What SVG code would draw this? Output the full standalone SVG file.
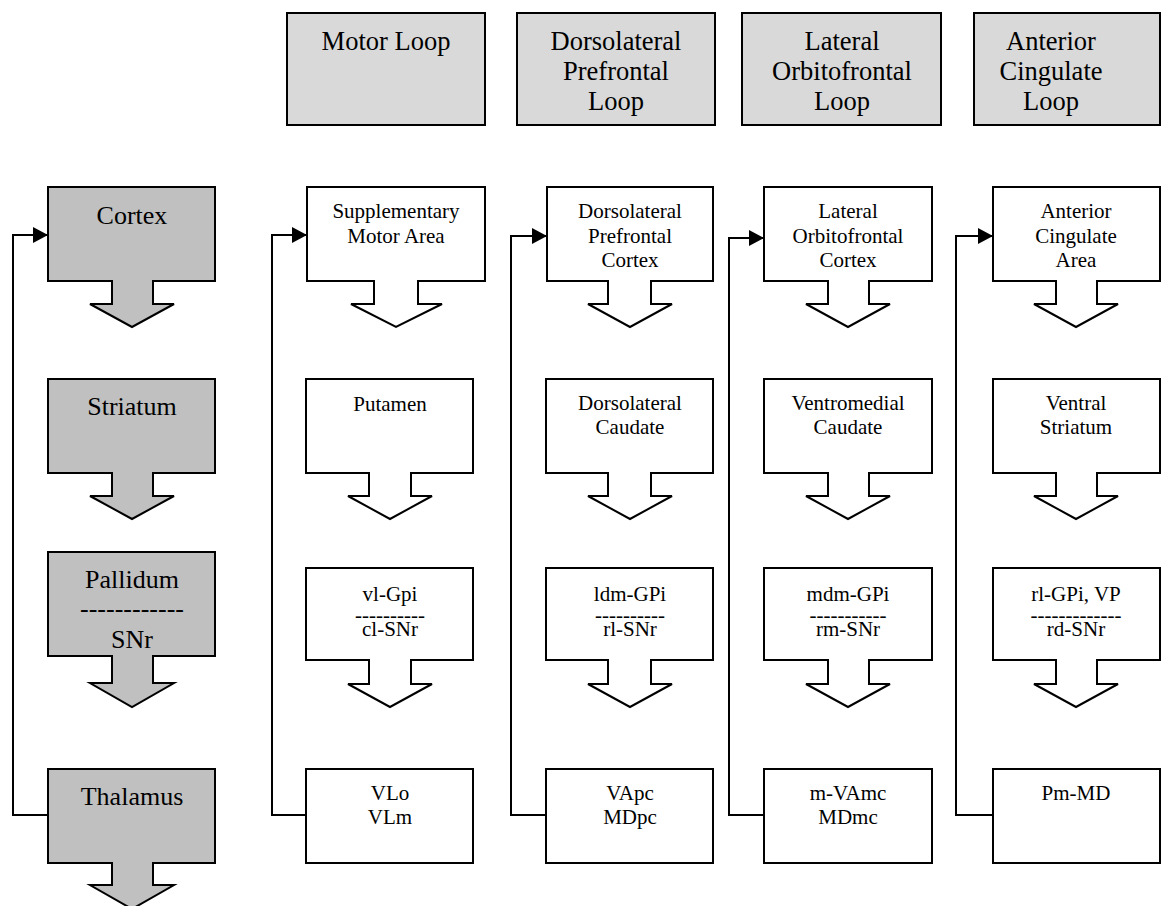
<svg xmlns="http://www.w3.org/2000/svg" width="1162" height="906" viewBox="0 0 1162 906">
<defs>
<style>
.hdr{fill:#d9d9d9;stroke:#000;stroke-width:2}
.lft{fill:#c0c0c0;stroke:#000;stroke-width:2;stroke-linejoin:miter}
.box{fill:#fff;stroke:#000;stroke-width:2;stroke-linejoin:miter}
.conn{fill:none;stroke:#000;stroke-width:2}
text{font-family:"Liberation Serif","Times New Roman",serif;fill:#000;text-anchor:middle}
.th{font-size:26.5px}
.tl{font-size:26px}
.tb{font-size:21px}
</style>
<marker id="ah" markerWidth="15" markerHeight="16" refX="15" refY="8" orient="auto" markerUnits="userSpaceOnUse">
<path d="M0,0 L15,8 L0,16 Z" fill="#000"/>
</marker>
</defs>
<rect width="1162" height="906" fill="#fff"/>

<g id="headers">
<g id="h-motor"><rect class="hdr" x="287" y="13" width="198" height="112"/><text class="th" x="386" y="50">Motor Loop</text></g>
<g id="h-dlpfc"><rect class="hdr" x="517" y="13" width="198" height="112"/><text class="th" x="616" y="50">Dorsolateral</text><text class="th" x="616" y="80">Prefrontal</text><text class="th" x="616" y="110">Loop</text></g>
<g id="h-lofc"><rect class="hdr" x="742" y="13" width="199" height="112"/><text class="th" x="842" y="50">Lateral</text><text class="th" x="842" y="80">Orbitofrontal</text><text class="th" x="842" y="110">Loop</text></g>
<g id="h-acc"><rect class="hdr" x="974" y="13" width="186" height="112"/><text class="th" x="1051" y="50">Anterior</text><text class="th" x="1051" y="80">Cingulate</text><text class="th" x="1051" y="110">Loop</text></g>
</g>

<g id="connectors">
<polyline class="conn" points="48,815 13,815 13,235 48,235" marker-end="url(#ah)"/>
<polyline class="conn" points="306,815 272,815 272,235 307,235" marker-end="url(#ah)"/>
<polyline class="conn" points="546,815 511,815 511,236 547,236" marker-end="url(#ah)"/>
<polyline class="conn" points="764,815 729,815 729,238 764,238" marker-end="url(#ah)"/>
<polyline class="conn" points="993,815 956,815 956,236 993,236" marker-end="url(#ah)"/>
</g>

<g id="left-column">
<g id="cortex"><path class="lft" d="M48,187 H215 V281 H153 V304 H174 L132,327 L90,304 H112 V281 H48 Z"/><text class="tl" x="132" y="224">Cortex</text></g>
<g id="striatum"><path class="lft" d="M48,379 H215 V473 H153 V496 H174 L132,519 L90,496 H112 V473 H48 Z"/><text class="tl" x="132" y="415">Striatum</text></g>
<g id="pallidum"><path class="lft" d="M48,552 H215 V656 H153 V683 H174 L132,707 L90,683 H112 V656 H48 Z"/><text class="tl" x="132" y="588">Pallidum</text><text class="tl" x="132" y="617">------------</text><text class="tl" x="132" y="648">SNr</text></g>
<g id="thalamus"><path class="lft" d="M48,769 H215 V863 H153 V885 H174 L132,909 L90,885 H112 V863 H48 Z"/><text class="tl" x="132" y="805">Thalamus</text></g>
</g>

<g id="col-motor">
<g id="sma"><path class="box" d="M307,187 H485 V281 H418 V304 H442 L396,327 L351,304 H374 V281 H307 Z"/><text class="tb" x="396" y="218">Supplementary</text><text class="tb" x="396" y="243">Motor Area</text></g>
<g id="putamen"><path class="box" d="M306,379 H473 V473 H411 V496 H432 L390,519 L348,496 H369 V473 H306 Z"/><text class="tb" x="390" y="411">Putamen</text></g>
<g id="vlgpi"><path class="box" d="M306,568 H473 V660 H411 V684 H432 L390,707 L348,684 H369 V660 H306 Z"/><text class="tb" x="390" y="601">vl-Gpi</text><text class="tb" x="390" y="622">----------</text><text class="tb" x="390" y="636">cl-SNr</text></g>
<g id="vlo"><rect class="box" x="306" y="769" width="167" height="94"/><text class="tb" x="390" y="800">VLo</text><text class="tb" x="390" y="824">VLm</text></g>
</g>

<g id="col-dlpfc">
<g id="dlpfc"><path class="box" d="M547,187 H713 V281 H651 V304 H672 L630,327 L588,304 H608 V281 H547 Z"/><text class="tb" x="630" y="218">Dorsolateral</text><text class="tb" x="630" y="243">Prefrontal</text><text class="tb" x="630" y="267">Cortex</text></g>
<g id="dlcaud"><path class="box" d="M546,379 H713 V473 H651 V496 H672 L630,519 L588,496 H608 V473 H546 Z"/><text class="tb" x="630" y="410">Dorsolateral</text><text class="tb" x="630" y="434">Caudate</text></g>
<g id="ldmgpi"><path class="box" d="M546,568 H713 V660 H651 V684 H672 L630,707 L588,684 H608 V660 H546 Z"/><text class="tb" x="630" y="601">ldm-GPi</text><text class="tb" x="630" y="622">----------</text><text class="tb" x="630" y="636">rl-SNr</text></g>
<g id="vapc"><rect class="box" x="546" y="769" width="167" height="94"/><text class="tb" x="630" y="800">VApc</text><text class="tb" x="630" y="824">MDpc</text></g>
</g>

<g id="col-lofc">
<g id="lofc"><path class="box" d="M764,187 H932 V281 H869 V304 H890 L848,327 L806,304 H828 V281 H764 Z"/><text class="tb" x="848" y="218">Lateral</text><text class="tb" x="848" y="243">Orbitofrontal</text><text class="tb" x="848" y="267">Cortex</text></g>
<g id="vmcaud"><path class="box" d="M764,379 H932 V473 H869 V496 H890 L848,519 L806,496 H828 V473 H764 Z"/><text class="tb" x="848" y="410">Ventromedial</text><text class="tb" x="848" y="434">Caudate</text></g>
<g id="mdmgpi"><path class="box" d="M764,568 H932 V660 H869 V684 H890 L848,707 L806,684 H828 V660 H764 Z"/><text class="tb" x="848" y="601">mdm-GPi</text><text class="tb" x="848" y="622">-----------</text><text class="tb" x="848" y="636">rm-SNr</text></g>
<g id="mvamc"><rect class="box" x="764" y="769" width="168" height="94"/><text class="tb" x="848" y="800">m-VAmc</text><text class="tb" x="848" y="824">MDmc</text></g>
</g>

<g id="col-acc">
<g id="aca"><path class="box" d="M993,187 H1160 V281 H1097 V304 H1118 L1076,327 L1034,304 H1056 V281 H993 Z"/><text class="tb" x="1076" y="218">Anterior</text><text class="tb" x="1076" y="243">Cingulate</text><text class="tb" x="1076" y="267">Area</text></g>
<g id="vstr"><path class="box" d="M993,379 H1160 V473 H1097 V496 H1118 L1076,519 L1034,496 H1056 V473 H993 Z"/><text class="tb" x="1076" y="410">Ventral</text><text class="tb" x="1076" y="434">Striatum</text></g>
<g id="rlgpi"><path class="box" d="M993,568 H1160 V660 H1097 V684 H1118 L1076,707 L1034,684 H1056 V660 H993 Z"/><text class="tb" x="1076" y="601">rl-GPi, VP</text><text class="tb" x="1076" y="622">-------------</text><text class="tb" x="1076" y="636">rd-SNr</text></g>
<g id="pmmd"><rect class="box" x="993" y="769" width="167" height="94"/><text class="tb" x="1076" y="800">Pm-MD</text></g>
</g>
</svg>
